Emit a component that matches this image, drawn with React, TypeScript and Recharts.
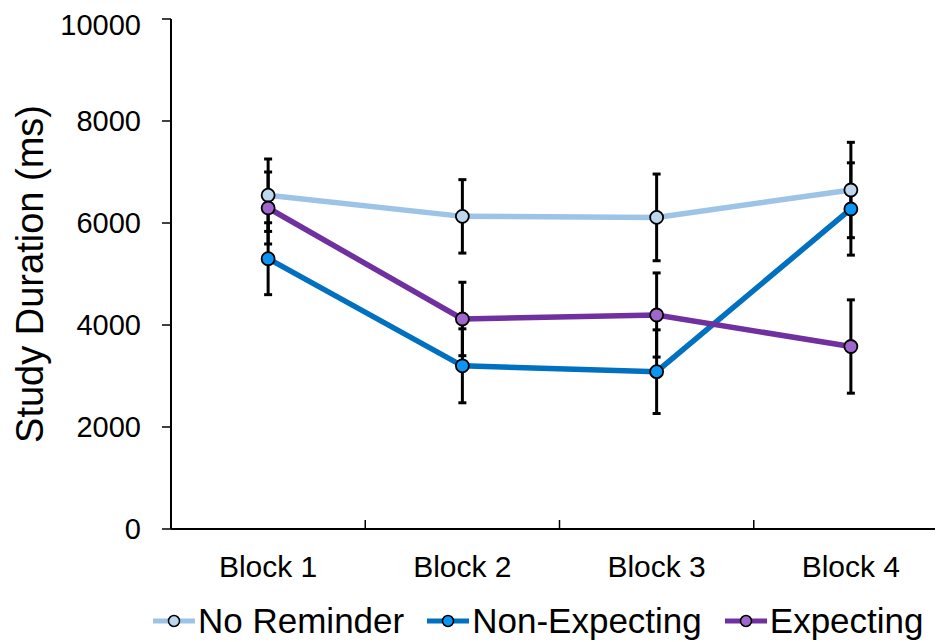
import { ErrorBar, Legend, Line, LineChart, XAxis, YAxis } from 'recharts'

const blocks = ['Block 1', 'Block 2', 'Block 3', 'Block 4']
const noReminder = [6545, 6130, 6110, 6647]
const noReminderErr = [710, 720, 850, 935]
const nonExpecting = [5300, 3200, 3085, 6275]
const nonExpectingErr = [705, 725, 820, 905]
const expecting = [6294, 4118, 4196, 3578]
const expectingErr = [706, 720, 825, 915]
const yTicks = [0, 2000, 4000, 6000, 8000, 10000]

const series = [
  { key: 'noReminder', name: 'No Reminder', line: '#9dc3e6', fill: '#bdd7ee' },
  { key: 'nonExpecting', name: 'Non-Expecting', line: '#0070c0', fill: '#0b96f5' },
  { key: 'expecting', name: 'Expecting', line: '#7030a0', fill: '#a066cc' },
]

const data = blocks.map((b, i) => ({
  x: i + 0.5,
  block: b,
  noReminder: noReminder[i],
  noReminderErr: noReminderErr[i],
  nonExpecting: nonExpecting[i],
  nonExpectingErr: nonExpectingErr[i],
  expecting: expecting[i],
  expectingErr: expectingErr[i],
}))

const font = '"Liberation Sans", Arial, sans-serif'

// whole numbers get an inward tick mark, halves get the block label
const XTick = (props: any) => {
  const { x, y, payload } = props
  const v = payload.value
  if (Number.isInteger(v)) {
    return <line x1={x} x2={x} y1={y} y2={y - 9} stroke="#000" strokeWidth={1.5} />
  }
  return (
    <text x={x} y={y + 48} textAnchor="middle" fontSize={30} fill="#000" fontFamily={font}>
      {blocks[Math.floor(v)]}
    </text>
  )
}

const LegendContent = () => (
  <div
    style={{
      display: 'flex',
      paddingLeft: 145,
      fontFamily: font,
      fontSize: 35,
      lineHeight: '40px',
      color: '#000',
      whiteSpace: 'nowrap',
    }}
  >
    {series.map((s) => (
      <div key={s.key} style={{ display: 'flex', alignItems: 'center', marginRight: 23, flexShrink: 0 }}>
        <svg width={42} height={20} style={{ marginRight: 3, flexShrink: 0 }}>
          <line x1={0} x2={42} y1={10} y2={10} stroke={s.line} strokeWidth={5} />
          <circle cx={21} cy={10} r={5.5} fill={s.fill} stroke="#000" strokeWidth={1.5} />
        </svg>
        <span>{s.name}</span>
      </div>
    ))}
  </div>
)

export default function App() {
  return (
    <div style={{ width: 935, height: 634, overflow: 'hidden' }}>
      <LineChart
        width={960}
        height={634}
        data={data}
        margin={{ top: 11, right: 20, bottom: 53, left: 0 }}
        style={{ fontFamily: font }}
      >
        <XAxis
          dataKey="x"
          type="number"
          domain={[0, 4]}
          ticks={[0.5, 1, 1.5, 2, 2.5, 3, 3.5]}
          tick={<XTick />}
          tickLine={false}
          tickSize={0}
          tickMargin={0}
          height={60}
          axisLine={{ stroke: '#000', strokeWidth: 2 }}
          interval={0}
        />
        <YAxis
          domain={[0, 10000]}
          ticks={yTicks}
          width={163}
          tickSize={9}
          tickMargin={21}
          tick={{ fontSize: 29, fill: '#000', fontFamily: font }}
          tickLine={{ stroke: '#000', strokeWidth: 1.5 }}
          axisLine={{ stroke: '#000', strokeWidth: 2 }}
          label={{
            value: 'Study Duration (ms)',
            angle: -90,
            position: 'insideLeft',
            offset: 22,
            style: { textAnchor: 'middle', fontSize: 38, fill: '#000', fontFamily: font },
          }}
        />
        <Legend
          verticalAlign="middle"
          layout="horizontal"
          content={<LegendContent />}
          wrapperStyle={{ top: 593, left: 0, width: 960 }}
        />
        {series.map((s) => (
          <Line
            key={s.key}
            dataKey={s.key}
            name={s.name}
            stroke={s.line}
            strokeWidth={5.5}
            dot={{ r: 6.5, fill: s.fill, stroke: '#000', strokeWidth: 1.8 }}
            activeDot={false}
            isAnimationActive={false}
          >
            <ErrorBar dataKey={`${s.key}Err`} direction="y" width={4} stroke="#000" strokeWidth={3} />
          </Line>
        ))}
      </LineChart>
    </div>
  )
}
